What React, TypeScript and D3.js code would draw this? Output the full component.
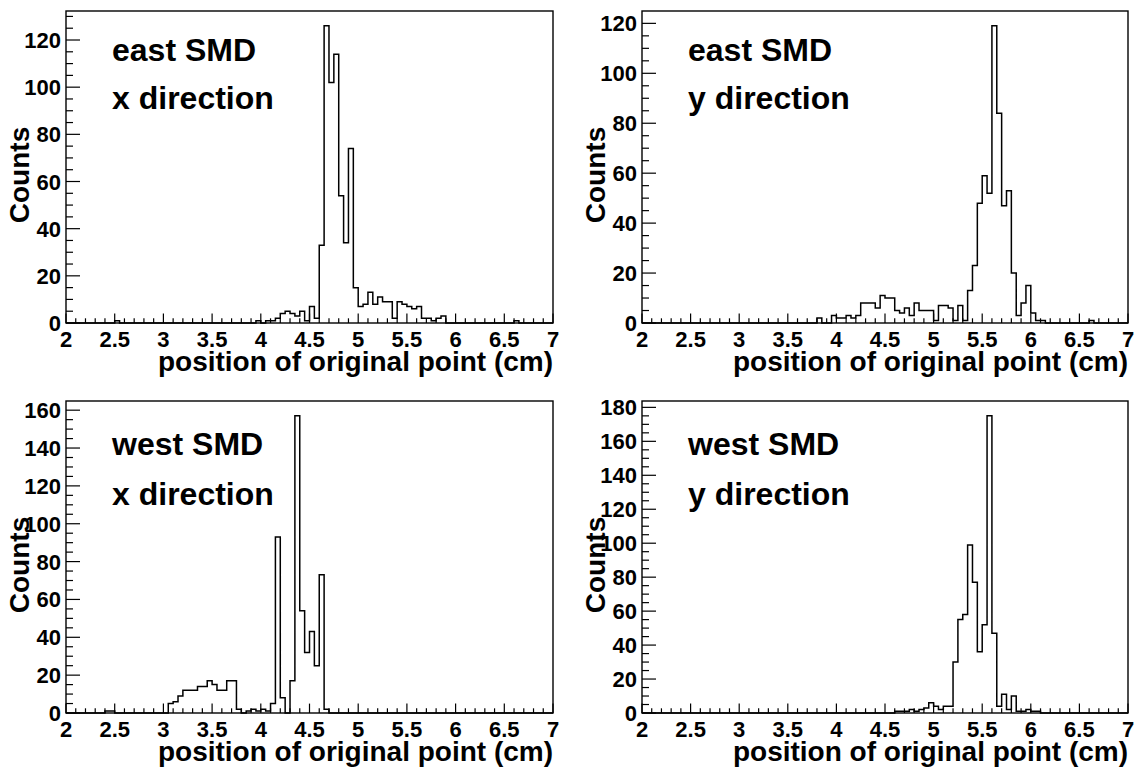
import React from "react";
import * as d3 from "d3";

// ---- data: 100 bins of width 0.05 from 2 to 7 ----
const BIN_START = 2;
const BIN_WIDTH = 0.05;

const eastXCounts = [
  0, 0, 0, 0, 0, 0, 0, 0, 0, 0,
  1, 0, 0, 0, 0, 0, 0, 0, 0, 0,
  0, 0, 0, 0, 0, 0, 0, 0, 0, 0,
  0, 0, 0, 0, 0, 0, 0, 0, 0, 1,
  0, 1, 1, 2, 4, 5, 4, 3, 5, 1,
  7, 2, 33, 126, 102, 114, 54, 34, 74, 15,
  7, 8, 13, 8, 11, 9, 9, 2, 9, 8,
  7, 6, 7, 2, 2, 1, 2, 3, 0, 0,
  0, 0, 0, 0, 0, 0, 0, 0, 0, 0,
  0, 0, 1, 0, 0, 0, 0, 0, 0, 0,
];

const eastYCounts = [
  0, 0, 0, 0, 0, 0, 0, 0, 0, 0,
  0, 0, 0, 0, 0, 0, 0, 0, 0, 0,
  0, 0, 0, 0, 0, 0, 0, 0, 0, 0,
  0, 0, 0, 0, 0, 0, 2, 0, 0, 3,
  2, 2, 3, 2, 3, 8, 8, 8, 6, 11,
  10, 10, 5, 4, 6, 3, 8, 5, 5, 5,
  1, 7, 7, 6, 1, 7, 1, 13, 23, 48,
  59, 52, 119, 84, 47, 53, 20, 3, 8, 15,
  4, 1, 1, 0, 0, 0, 0, 0, 0, 0,
  0, 0, 1, 0, 0, 0, 0, 0, 0, 0,
];

const westXCounts = [
  0, 0, 0, 0, 0, 0, 0, 0, 1, 1,
  0, 0, 0, 0, 0, 0, 0, 0, 0, 0,
  0, 5, 6, 9, 12, 12, 12, 14, 14, 17,
  15, 12, 12, 17, 17, 2, 0, 1, 2, 1,
  2, 1, 5, 93, 8, 0, 17, 157, 54, 32,
  43, 25, 73, 2, 0, 0, 0, 0, 0, 0,
  0, 0, 0, 0, 0, 0, 0, 0, 0, 0,
  0, 0, 0, 0, 0, 0, 0, 0, 0, 0,
  0, 0, 0, 0, 0, 0, 0, 0, 0, 0,
  0, 0, 0, 0, 0, 0, 0, 0, 0, 0,
];

const westYCounts = [
  0, 0, 0, 0, 0, 0, 0, 0, 0, 0,
  0, 0, 0, 0, 0, 0, 0, 0, 0, 0,
  0, 0, 0, 0, 0, 0, 0, 0, 0, 0,
  0, 0, 0, 0, 0, 0, 0, 0, 0, 0,
  0, 0, 0, 0, 0, 0, 0, 0, 0, 0,
  0, 0, 1, 1, 1, 2, 1, 2, 3, 6,
  4, 2, 4, 4, 30, 55, 58, 99, 77, 36,
  52, 175, 47, 4, 11, 2, 10, 1, 1, 2,
  1, 1, 0, 0, 0, 0, 0, 0, 0, 0,
  0, 0, 0, 0, 0, 0, 0, 0, 0, 0,
];

const xTickValues = [2, 2.5, 3, 3.5, 4, 4.5, 5, 5.5, 6, 6.5, 7];
const xTickLabels = ["2", "2.5", "3", "3.5", "4", "4.5", "5", "5.5", "6", "6.5", "7"];
const panelLine1 = ["east SMD", "east SMD", "west SMD", "west SMD"];
const panelLine2 = ["x direction", "y direction", "x direction", "y direction"];
const xTitle = "position of original point (cm)";
const yTitle = "Counts";

const FONT = "'Liberation Sans', Arial, Helvetica, sans-serif";

type PanelProps = {
  left: number;
  right: number;
  top: number;
  bottom: number;
  counts: number[];
  line1: string;
  line2: string;
  textBase1: number;
  textBase2: number;
};

function Panel({ left, right, top, bottom, counts, line1, line2, textBase1, textBase2 }: PanelProps) {
  const yMax = 1.05 * (d3.max(counts) as number);
  const x = d3.scaleLinear().domain([2, 7]).range([left, right]);
  const y = d3.scaleLinear().domain([0, yMax]).range([bottom, top]);

  const pts: [number, number][] = [];
  counts.forEach((c, i) => {
    const x0 = BIN_START + i * BIN_WIDTH;
    pts.push([x0, c], [x0 + BIN_WIDTH, c]);
  });
  const path = d3
    .line<[number, number]>()
    .x((d) => x(d[0]))
    .y((d) => y(d[1]))(pts) as string;

  const xMinor = d3.range(0, 51).map((k) => 2 + k * 0.1);
  const yMinor = d3.range(0, Math.floor(yMax / 5) + 1).map((k) => k * 5);
  const yMajor = d3.range(0, Math.floor(yMax / 20) + 1).map((k) => k * 20);

  const xMajLen = 9.4;
  const xMinLen = 4.7;
  const yMajLen = 14;
  const yMinLen = 7;

  return (
    <g>
      <rect x={left} y={top} width={right - left} height={bottom - top} fill="none" stroke="#000" strokeWidth={1.4} />
      {xMinor.map((v, k) => {
        const major = k % 5 === 0;
        return (
          <line key={"xm" + k} x1={x(v)} x2={x(v)} y1={bottom} y2={bottom - (major ? xMajLen : xMinLen)} stroke="#000" strokeWidth={1.2} />
        );
      })}
      {yMinor.map((v, k) => {
        const major = v % 20 === 0;
        return (
          <line key={"ym" + k} x1={left} x2={left + (major ? yMajLen : yMinLen)} y1={y(v)} y2={y(v)} stroke="#000" strokeWidth={1.2} />
        );
      })}
      <path d={path} fill="none" stroke="#000" strokeWidth={1.5} />
      {xTickValues.map((v, k) => (
        <text key={"xl" + k} x={x(v)} y={bottom + 24} textAnchor="middle" fontFamily={FONT} fontWeight="bold" fontSize={22}>
          {xTickLabels[k]}
        </text>
      ))}
      {yMajor.map((v) => (
        <text key={"yl" + v} x={left - 5} y={y(v) + 8} textAnchor="end" fontFamily={FONT} fontWeight="bold" fontSize={22}>
          {String(v)}
        </text>
      ))}
      <text x={right} y={bottom + 48} textAnchor="end" fontFamily={FONT} fontWeight="bold" fontSize={28}>
        {xTitle}
      </text>
      <text
        transform={`translate(${left - 37},${(top + bottom) / 2 + 8}) rotate(-90)`}
        textAnchor="middle"
        fontFamily={FONT}
        fontWeight="bold"
        fontSize={28}
      >
        {yTitle}
      </text>
      <text x={left + 46} y={textBase1} fontFamily={FONT} fontWeight="bold" fontSize={32}>
        {line1}
      </text>
      <text x={left + 46} y={textBase2} fontFamily={FONT} fontWeight="bold" fontSize={32}>
        {line2}
      </text>
    </g>
  );
}

export default function App() {
  const panels = [
    { left: 66, right: 553, top: 11, bottom: 323, counts: eastXCounts, t1: 61, t2: 109 },
    { left: 642, right: 1128, top: 11, bottom: 323, counts: eastYCounts, t1: 61, t2: 109 },
    { left: 66, right: 553, top: 401, bottom: 713, counts: westXCounts, t1: 455, t2: 505 },
    { left: 642, right: 1128, top: 401, bottom: 713, counts: westYCounts, t1: 455, t2: 505 },
  ];
  return (
    <svg
      width={1135}
      height={769}
      viewBox="0 0 1135 769"
      style={{ position: "absolute", left: 0, top: 0, background: "#fff" }}
    >
      <rect x={0} y={0} width={1135} height={769} fill="#fff" />
      {panels.map((p, i) => (
        <Panel
          key={i}
          left={p.left}
          right={p.right}
          top={p.top}
          bottom={p.bottom}
          counts={p.counts}
          line1={panelLine1[i]}
          line2={panelLine2[i]}
          textBase1={p.t1}
          textBase2={p.t2}
        />
      ))}
    </svg>
  );
}
